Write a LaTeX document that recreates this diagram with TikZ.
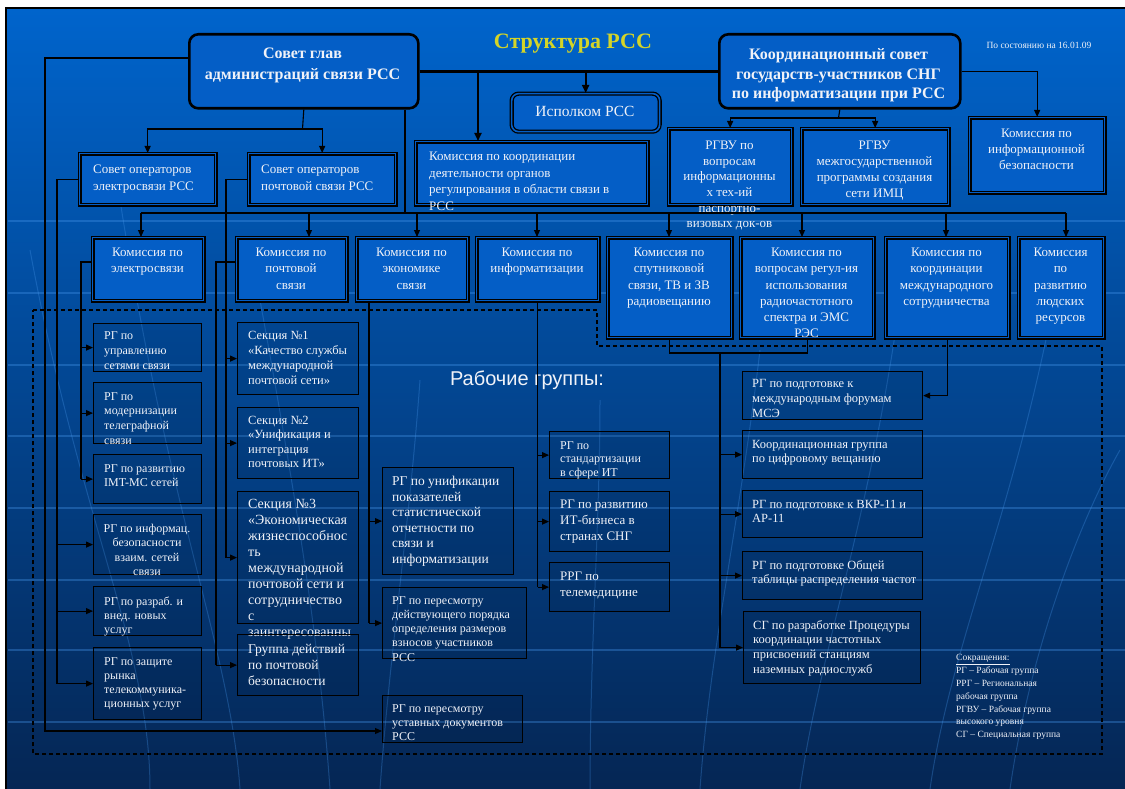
\documentclass[tikz,border=0pt]{standalone}
\usepackage{fontspec}
\setmainfont{Liberation Serif}
\newfontfamily\sansf{Liberation Sans}
\usetikzlibrary{arrows.meta}
\definecolor{bgtop}{RGB}{0,100,204}
\definecolor{bgmid}{RGB}{6,76,166}
\definecolor{bgbot}{RGB}{5,38,84}
\definecolor{boxblue}{RGB}{4,94,198}
\definecolor{ttl}{RGB}{212,212,40}
\definecolor{wtext}{RGB}{240,242,248}
\definecolor{deco}{RGB}{70,150,235}
\newcommand{\fs}[2]{\fontsize{#1}{#2}\selectfont}
\newcommand{\mkbox}[6]{\node[#2, anchor=north west, minimum width={(#5-#3)*1pt}, minimum height={(#6-#4)*1pt}] (#1) at (#3,#4) {};}
\begin{document}
\begin{tikzpicture}[x=1pt,y=-1pt,
  conn/.style={draw=black, line width=1.1pt},
  arr/.style={conn, -{Triangle[length=7pt,width=6pt]}},
  thk/.style={draw=black, line width=2.6pt},
  arrT/.style={draw=black, line width=1.8pt, -{Triangle[length=8pt,width=7pt]}},
  bigbox/.style={draw=black, line width=2.6pt, rounded corners=9pt, fill=boxblue, inner sep=0pt},
  dbl/.style={draw=black, line width=1.3pt, double=boxblue, double distance=1.6pt, fill=boxblue, inner sep=0pt},
  dblr/.style={dbl, rounded corners=7pt},
  wg/.style={draw=black, line width=1.2pt, fill=black, fill opacity=0.07, inner sep=0pt},
  tx/.style={text=wtext, inner sep=0pt, align=left},
  txc/.style={text=wtext, inner sep=0pt, align=center},
  decol/.style={draw=deco, opacity=0.35, line width=1.5pt},
  decoc/.style={draw=deco, opacity=0.3, line width=1pt}]
\useasboundingbox (0,0) rectangle (1125,789);
% background
\fill[white] (0,0) rectangle (1125,789);
\shade[top color=bgtop, middle color=bgmid, bottom color=bgbot] (6,8) rectangle (1125,789);
\draw[black, line width=2pt] (6,789) -- (6,8) -- (1125,8);
\foreach \yy in {221,293,365,436,508,580,650,722} \draw[decol] (8,\yy) -- (1125,\yy);
\foreach \a/\b/\c/\d/\e in {30/250/80/150/150, 120/200/170/230/240, 260/300/300/320/330, 420/380/410/390/380, 600/400/600/590/590, 760/350/740/710/700, 900/300/870/820/800, 1050/320/1010/950/930, 1120/450/1080/1030/1010}
  \draw[decoc] (\a,\b) .. controls (\c,520) and (\d,650) .. (\e,789);

% title
\node[text=ttl, font=\fs{22}{26}\bfseries, anchor=base] (title) at (573,49) {Структура РСС};
\node[text=wtext, font=\fs{9.5}{11}, anchor=base] (date) at (1039,49) {По состоянию на 16.01.09};

% top boxes
\mkbox{A}{bigbox}{188}{33}{417}{107}
\node[txc, font=\fs{16}{21}\bfseries, anchor=north] (tA) at (302.5,48) {Совет глав\\администраций связи РСС};
\mkbox{B}{bigbox}{718}{33}{959}{107}
\node[txc, font=\fs{16}{19.5}\bfseries, anchor=north] (tB) at (838.5,48.5) {Координационный совет\\государств-участников СНГ\\по информатизации при РСС};
\mkbox{Isp}{dblr}{511}{93}{659}{131}
\node[text=wtext, font=\fs{15.5}{18}, anchor=base] (tIsp) at (585,117) {Исполком РСС};

\mkbox{soe}{dbl}{79}{153}{215}{204}
\node[tx, font=\fs{13}{16.5}, anchor=north west] (tsoe) at (93,165) {Совет операторов\\электросвязи РСС};
\mkbox{sop}{dbl}{248}{153}{395}{204}
\node[tx, font=\fs{13}{16.5}, anchor=north west] (tsop) at (261,165) {Совет операторов\\почтовой связи РСС};
\mkbox{kkd}{dbl}{415}{141}{647}{204}
\node[tx, font=\fs{13}{16.5}, anchor=north west] (tkkd) at (429,152) {Комиссия по координации\\деятельности органов\\регулирования в области связи в\\РСС};
\mkbox{rgv1}{dbl}{668}{128}{791}{204}
\node[txc, font=\fs{13}{15.6}, anchor=north] (trgv1) at (729.5,141) {РГВУ по\\вопросам\\информационны\\х тех-ий\\паспортно-\\визовых док-ов};
\mkbox{rgv2}{dbl}{801}{128}{948}{204}
\node[txc, font=\fs{13}{15.8}, anchor=north] (trgv2) at (874.5,141) {РГВУ\\межгосударственной\\программы создания\\сети ИМЦ};
\mkbox{kib}{dbl}{969}{117}{1104}{192}
\node[txc, font=\fs{13}{16}, anchor=north] (tkib) at (1036.5,129) {Комиссия по\\информационной\\безопасности};

% commissions
\mkbox{kel}{dbl}{92}{237}{203}{300}
\node[txc, font=\fs{13}{16.2}, anchor=north] (tkel) at (147.5,248) {Комиссия по\\электросвязи};
\mkbox{kps}{dbl}{236}{237}{346}{300}
\node[txc, font=\fs{13}{16.2}, anchor=north] (tkps) at (291,248) {Комиссия по\\почтовой\\связи};
\mkbox{kes}{dbl}{356}{237}{467}{300}
\node[txc, font=\fs{13}{16.2}, anchor=north] (tkes) at (411.5,248) {Комиссия по\\экономике\\связи};
\mkbox{kinf}{dbl}{476}{237}{598}{300}
\node[txc, font=\fs{13}{16.2}, anchor=north] (tkinf) at (537,248) {Комиссия по\\информатизации};
\mkbox{ksp}{dbl}{607}{237}{731}{337}
\node[txc, font=\fs{13}{16.2}, anchor=north] (tksp) at (669,248) {Комиссия по\\спутниковой\\связи, ТВ и ЗВ\\радиовещанию};
\mkbox{kvr}{dbl}{740}{237}{873}{337}
\node[txc, font=\fs{13}{16.2}, anchor=north] (tkvr) at (806.5,248) {Комиссия по\\вопросам регул-ия\\использования\\радиочастотного\\спектра и ЭМС\\РЭС};
\mkbox{kkm}{dbl}{885}{237}{1008}{337}
\node[txc, font=\fs{13}{16.2}, anchor=north] (tkkm) at (946.5,248) {Комиссия по\\координации\\международного\\сотрудничества};
\mkbox{klr}{dbl}{1018}{237}{1103}{337}
\node[txc, font=\fs{13}{16.2}, anchor=north] (tklr) at (1060.5,248) {Комиссия\\по\\развитию\\людских\\ресурсов};

% dashed working-group region
\draw[black, line width=1.1pt, dash pattern=on 4pt off 3pt] (33,310) -- (597,310) -- (597,346) -- (1102,346) -- (1102,754) -- (33,754) -- cycle;
\node[text=wtext, font=\sansf\fs{20}{24}, anchor=base] (rgtitle) at (527,385) {Рабочие группы:};

% working groups: column 1
\mkbox{rg1}{wg}{93}{323}{201}{371}
\node[tx, font=\fs{12}{15}, anchor=north west] (trg1) at (104,331) {РГ по\\управлению\\сетями связи};
\mkbox{rg2}{wg}{93}{382}{201}{443}
\node[tx, font=\fs{12}{14.7}, anchor=north west] (trg2) at (104,392) {РГ по\\модернизации\\телеграфной\\связи};
\mkbox{rg3}{wg}{93}{454}{201}{503}
\node[tx, font=\fs{12}{14}, anchor=north west] (trg3) at (104,464) {РГ по развитию\\IMT-МС сетей};
\mkbox{rg4}{wg}{93}{514}{201}{574}
\node[txc, font=\fs{12}{14.3}, anchor=north] (trg4) at (147,524) {РГ по информац.\\безопасности\\взаим. сетей\\связи};
\mkbox{rg5}{wg}{93}{586}{201}{635}
\node[tx, font=\fs{12}{14}, anchor=north west] (trg5) at (104,597) {РГ по разраб. и\\внед. новых\\услуг};
\mkbox{rg6}{wg}{93}{647}{201}{719}
\node[tx, font=\fs{12}{14}, anchor=north west] (trg6) at (104,657) {РГ по защите\\рынка\\телекоммуника-\\ционных услуг};

% column 2
\mkbox{sec1}{wg}{237}{322}{358}{394}
\node[tx, font=\fs{12.5}{15}, anchor=north west] (tsec1) at (248,331) {Секция №1\\«Качество службы\\международной\\почтовой сети»};
\mkbox{sec2}{wg}{237}{407}{358}{478}
\node[tx, font=\fs{12.5}{14.5}, anchor=north west] (tsec2) at (248,416) {Секция №2\\«Унификация и\\интеграция\\почтовых ИТ»};
\mkbox{sec3}{wg}{237}{491}{358}{623}
\node[tx, font=\fs{14}{16}, anchor=north west] (tsec3) at (248,499) {Секция №3\\«Экономическая\\жизнеспособнос\\ть\\международной\\почтовой сети и\\сотрудничество\\с\\заинтересованны};
\mkbox{grp}{wg}{237}{634}{358}{695}
\node[tx, font=\fs{13.5}{16}, anchor=north west] (tgrp) at (248,644) {Группа действий\\по почтовой\\безопасности};

% column 3
\mkbox{rgun}{wg}{382}{467}{513}{574}
\node[tx, font=\fs{13.5}{15.6}, anchor=north west] (trgun) at (392,476) {РГ по унификации\\показателей\\статистической\\отчетности по\\связи и\\информатизации};
\mkbox{rgpp}{wg}{382}{587}{526}{658}
\node[tx, font=\fs{12}{14.3}, anchor=north west] (trgpp) at (392,596) {РГ по пересмотру\\действующего порядка\\определения размеров\\взносов участников\\РСС};
\mkbox{rgust}{wg}{382}{695}{522}{742}
\node[tx, font=\fs{12}{14}, anchor=north west] (trgust) at (392,704) {РГ по пересмотру\\уставных документов\\РСС};

% column 4
\mkbox{rgst}{wg}{549}{431}{669}{478}
\node[tx, font=\fs{12}{13.5}, anchor=north west] (trgst) at (560,441) {РГ по\\стандартизации\\в сфере ИТ};
\mkbox{rgit}{wg}{549}{491}{669}{551}
\node[tx, font=\fs{13}{16}, anchor=north west] (trgit) at (560,500) {РГ по развитию\\ИТ-бизнеса в\\странах СНГ};
\mkbox{rrg}{wg}{549}{562}{669}{611}
\node[tx, font=\fs{13}{16}, anchor=north west] (trrg) at (560,572) {РРГ по\\телемедицине};

% column 5
\mkbox{rgmse}{wg}{742}{371}{922}{419}
\node[tx, font=\fs{12.5}{15}, anchor=north west] (trgmse) at (752,379) {РГ по подготовке к\\международным форумам\\МСЭ};
\mkbox{kgc}{wg}{742}{430}{922}{478}
\node[tx, font=\fs{12.5}{14}, anchor=north west] (tkgc) at (752,440) {Координационная группа\\по цифровому вещанию};
\mkbox{vkr}{wg}{742}{490}{922}{537}
\node[tx, font=\fs{12.5}{14}, anchor=north west] (tvkr) at (752,500) {РГ по подготовке к ВКР-11 и\\АР-11};
\mkbox{obsh}{wg}{742}{551}{922}{599}
\node[tx, font=\fs{12.5}{14}, anchor=north west] (tobsh) at (752,560) {РГ по подготовке Общей\\таблицы распределения частот};
\mkbox{sg}{wg}{743}{611}{920}{683}
\node[tx, font=\fs{12.5}{14.7}, anchor=north west] (tsg) at (753,620) {СГ по разработке Процедуры\\координации частотных\\присвоений станциям\\наземных радиослужб};

% abbreviations
\node[tx, font=\fs{9.5}{12.9}, anchor=north west] (abbr) at (956,654) {\underline{Сокращения:}\\РГ – Рабочая группа\\РРГ – Региональная\\рабочая группа\\РГВУ – Рабочая группа\\высокого уровня\\СГ – Специальная группа};

% ---- connectors ----
\draw[thk] (A.east) -- (B.west);
\draw[arrT] (Isp.north |- A.east) -- (Isp.north);
\coordinate (kkdx) at (478,141);
\draw[arrT] (kkdx |- A.east) -- (kkdx |- kkd.north);

\coordinate (sp1) at (302.5,129);
\draw[conn] (A.south) -- (sp1);
\draw[arr] (sp1) -| (soe.north);
\draw[arr] (sp1) -| (sop.north);

\coordinate (sp2) at (838.5,118);
\draw[conn] (B.south) -- (sp2);
\draw[arr] (sp2) -| (rgv1.north);
\draw[arr] (sp2) -| (rgv2.north);
\draw[arr] (B.east) -| (kib.north);

% bus
\coordinate (busv) at (405,213);
\draw[conn] (busv |- A.south) -- (busv);
\coordinate (d1) at (141,213);
\coordinate (d2) at (309,213);
\coordinate (d3) at (417,213);
\coordinate (d4) at (537,213);
\coordinate (d5) at (669,213);
\coordinate (d6) at (802,213);
\coordinate (d7) at (946,213);
\coordinate (d8) at (1066,213);
\draw[conn] (d1) -- (d8);
\draw[arr] (d1) -- (d1 |- kel.north);
\draw[arr] (d2) -- (d2 |- kps.north);
\draw[arr] (d3) -- (d3 |- kes.north);
\draw[arr] (d4) -- (d4 |- kinf.north);
\draw[arr] (d5) -- (d5 |- ksp.north);
\draw[arr] (d6) -- (d6 |- kvr.north);
\draw[arr] (d7) -- (d7 |- kkm.north);
\draw[arr] (d8) -- (d8 |- klr.north);

% long left line
\coordinate (la) at (45,58);
\coordinate (lb) at (45,731);
\draw[arr] (A.west |- la) -- (la) -- (lb) -- (rgust.west |- lb);

% electro council
\coordinate (e1) at (57,0);
\draw[conn] (soe.west) -- (e1 |- soe.west) -- (e1 |- rg6.west);
\draw[arr] (e1 |- rg4.west) -- (rg4.west);
\draw[arr] (e1 |- rg5.west) -- (rg5.west);
\draw[arr] (e1 |- rg6.west) -- (rg6.west);
% electro commission
\coordinate (e2) at (81,262);
\draw[conn] (kel.west |- e2) -- (e2) -- (e2 |- rg3.west);
\draw[arr] (e2 |- rg1.west) -- (rg1.west);
\draw[arr] (e2 |- rg2.west) -- (rg2.west);
\draw[arr] (e2 |- rg3.west) -- (rg3.west);

% postal council
\coordinate (p1) at (226,0);
\draw[conn] (sop.west) -- (p1 |- sop.west) -- (p1 |- sec3.west);
\draw[arr] (p1 |- sec1.west) -- (sec1.west);
\draw[arr] (p1 |- sec2.west) -- (sec2.west);
\draw[arr] (p1 |- sec3.west) -- (sec3.west);
% postal commission
\coordinate (p2) at (216,262);
\draw[conn] (kps.west |- p2) -- (p2) -- (p2 |- grp.west);
\draw[arr] (p2 |- grp.west) -- (grp.west);

% economics
\coordinate (ec) at (369,0);
\draw[conn] (ec |- kes.south) -- (ec |- rgpp.west);
\draw[arr] (ec |- rgun.west) -- (rgun.west);
\draw[arr] (ec |- rgpp.west) -- (rgpp.west);

% informatization
\draw[conn] (kinf.south) -- (kinf.south |- rrg.west);
\draw[arr] (kinf.south |- rgst.west) -- (rgst.west);
\draw[arr] (kinf.south |- rgit.west) -- (rgit.west);
\draw[arr] (kinf.south |- rrg.west) -- (rrg.west);

% satellite + radio frequency
\coordinate (sv) at (720,353);
\draw[conn] (ksp.south) -- (ksp.south |- sv) -- (kvr.south |- sv) -- (kvr.south);
\draw[conn] (sv) -- (sv |- sg.west);
\draw[arr] (sv |- kgc.west) -- (kgc.west);
\draw[arr] (sv |- vkr.west) -- (vkr.west);
\draw[arr] (sv |- obsh.west) -- (obsh.west);
\draw[arr] (sv |- sg.west) -- (sg.west);

% international cooperation
\draw[arr] (kkm.south) |- (rgmse.east);
\end{tikzpicture}
\end{document}
